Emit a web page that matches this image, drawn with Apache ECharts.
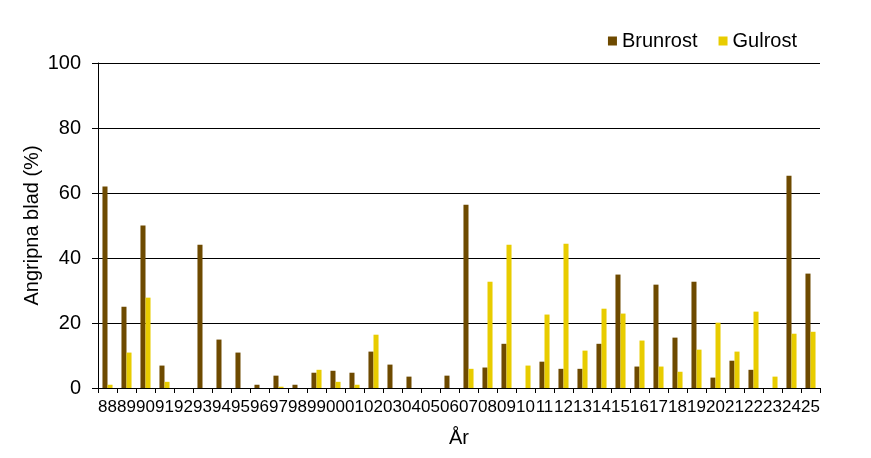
<!DOCTYPE html>
<html>
<head>
<meta charset="utf-8">
<script src="https://cdn.jsdelivr.net/npm/echarts@6/dist/echarts.min.js"></script>
<style>
html,body{margin:0;padding:0;background:#fff;}
#main{width:871px;height:458px;}
</style>
</head>
<body>
<div id="main"></div>
<script>
// år (88 = 1988 ... 25 = 2025)
var years = ['88','89','90','91','92','93','94','95','96','97','98','99','00','01','02','03','04','05','06','07','08','09','10','11','12','13','14','15','16','17','18','19','20','21','22','23','24','25'];
// angripna blad (%)
var brunrost = [62,25,50,6.9,0,44.1,14.9,10.9,1,3.8,1,4.7,5.3,4.7,11.2,7.2,3.5,0,3.8,56.4,6.3,13.6,0,8.1,5.9,5.9,13.6,34.9,6.6,31.8,15.5,32.7,3.2,8.4,5.6,0,65.3,35.2];
var gulrost = [1,10.9,27.8,1.9,0,0,0,0,0,0.4,0,5.6,1.9,1,16.4,0,0,0,0,5.9,32.7,44.1,6.9,22.6,44.4,11.5,24.4,22.9,14.6,6.6,5,11.8,20.1,11.2,23.5,3.5,16.7,17.3];
var yTicks = [0,20,40,60,80,100];

var myChart = echarts.init(document.getElementById('main'));
var option = {
	animation: false,
	textStyle: { fontFamily: 'Liberation Sans, Arial, sans-serif', color: '#000' },
	legend: {
		data: ['Brunrost','Gulrost'],
		top: 26,
		right: 69,
		itemWidth: 9,
		itemHeight: 9,
		itemGap: 21,
		icon: 'rect',
		textStyle: { fontSize: 20, color: '#000' }
	},
	grid: { left: 98, right: 51, top: 63, bottom: 70 },
	xAxis: {
		type: 'category',
		data: years,
		name: 'År',
		nameLocation: 'middle',
		nameGap: 40,
		nameMoveOverlap: false,
		nameTextStyle: { fontSize: 20, color: '#000' },
		axisLine: { lineStyle: { color: '#000', width: 1 } },
		axisTick: { show: true, length: 5, lineStyle: { color: '#000' } },
		axisLabel: { interval: 0, fontSize: 17, color: '#000', margin: 11 }
	},
	yAxis: {
		type: 'value',
		min: yTicks[0],
		max: yTicks[yTicks.length - 1],
		interval: 20,
		name: 'Angripna blad (%)',
		nameLocation: 'middle',
		nameGap: 56,
		nameMoveOverlap: false,
		nameTextStyle: { fontSize: 20, color: '#000' },
		axisLine: { show: true, lineStyle: { color: '#000', width: 1 } },
		axisTick: { show: true, length: 6, lineStyle: { color: '#000' } },
		axisLabel: { fontSize: 20, color: '#000', margin: 17 },
		splitLine: { lineStyle: { color: '#000', width: 1 } }
	},
	series: [
		{
			name: 'Brunrost',
			type: 'bar',
			data: brunrost,
			barGap: '0%',
			barCategoryGap: '47%',
			itemStyle: { color: '#6E4A00' }
		},
		{
			name: 'Gulrost',
			type: 'bar',
			data: gulrost,
			barGap: '0%',
			barCategoryGap: '47%',
			itemStyle: { color: '#E8CC00' }
		}
	]
};
myChart.setOption(option);
</script>
</body>
</html>
